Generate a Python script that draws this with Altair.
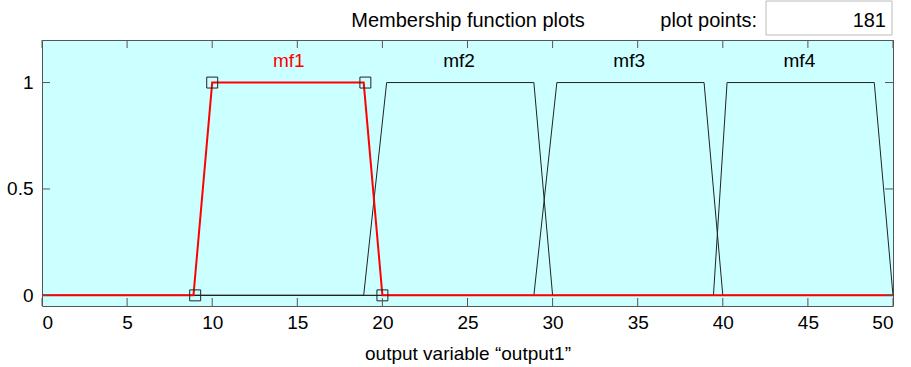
import altair as alt
import pandas as pd

# ---- data ----
mf_names = ["mf1", "mf2", "mf3", "mf4"]
mf_x = [
    [0, 8.9, 10.0, 18.9, 20.0, 50],
    [0, 18.9, 20.25, 28.9, 30.0, 50],
    [0, 28.9, 30.25, 38.9, 40.0, 50],
    [0, 39.45, 40.25, 48.9, 50.0],
]
mf_y = [
    [0, 0, 1, 1, 0, 0],
    [0, 0, 1, 1, 0, 0],
    [0, 0, 1, 1, 0, 0],
    [0, 0, 1, 1, 0],
]
label_x = [14.5, 24.5, 34.5, 44.5]
label_y = [1.1, 1.1, 1.1, 1.1]
label_color = ["red", "black", "black", "black"]
vertex_x = [9, 10, 19, 20]
vertex_y = [0, 1, 1, 0]
x_ticks = [0, 5, 10, 15, 20, 25, 30, 35, 40, 45, 50]
y_ticks = [0, 0.5, 1]
title_text = "Membership function plots"
points_label = "plot points:"
points_value = "181"
x_title = "output variable \u201coutput1\u201d"

FONT = "Liberation Sans"
W, H = 851, 266

rows = []
for name, xs_, ys_ in zip(mf_names, mf_x, mf_y):
    for i, (xv, yv) in enumerate(zip(xs_, ys_)):
        rows.append({"mf": name, "i": i, "x": xv, "y": yv})
lines_df = pd.DataFrame(rows)
labels_df = pd.DataFrame({"mf": mf_names, "x": label_x, "y": label_y, "c": label_color})
verts_df = pd.DataFrame({"x": vertex_x, "y": vertex_y})
xt_df = pd.DataFrame({"v": x_ticks})
yt_df = pd.DataFrame({"v": y_ticks})
one = pd.DataFrame({"t": [title_text], "p": [points_label], "n": [points_value]})

xs = alt.Scale(domain=[0, 50], nice=False, zero=False)
ys = alt.Scale(domain=[-0.05, 1.2], nice=False, zero=False)

x_axis = alt.Axis(values=x_ticks, ticks=False, domain=False, grid=False,
                  labelFontSize=19, labelPadding=7, labelColor="black",
                  title=x_title, titleFontSize=19, titleFontWeight="normal",
                  titlePadding=12, titleColor="black", format="~g")
y_axis = alt.Axis(values=y_ticks, ticks=False, domain=False, grid=False,
                  labelFontSize=19, labelPadding=9, labelColor="black",
                  title=None, format="~g")

black_lines = alt.Chart(lines_df).transform_filter(alt.datum.mf != "mf1").mark_line(
    color="#222222", strokeWidth=1
).encode(
    x=alt.X("x:Q", scale=xs, axis=x_axis),
    y=alt.Y("y:Q", scale=ys, axis=y_axis),
    detail="mf:N",
    order="i:Q",
)

red_line = alt.Chart(lines_df).transform_filter(alt.datum.mf == "mf1").mark_line(
    color="red", strokeWidth=2
).encode(
    x=alt.X("x:Q", scale=xs),
    y=alt.Y("y:Q", scale=ys),
    order="i:Q",
)

squares = alt.Chart(verts_df).mark_point(
    shape="square", filled=False, color="#222222", strokeWidth=1, size=120, opacity=1
).encode(x=alt.X("x:Q", scale=xs), y=alt.Y("y:Q", scale=ys))

labels = alt.Chart(labels_df).mark_text(font=FONT, fontSize=19, baseline="middle").encode(
    x=alt.X("x:Q", scale=xs), y=alt.Y("y:Q", scale=ys), text="mf:N",
    color=alt.Color("c:N", scale=None),
)

tick_style = dict(color="#555555", strokeWidth=1)
xt_bottom = alt.Chart(xt_df).mark_rule(**tick_style).encode(
    x=alt.X("v:Q", scale=xs), y=alt.value(H), y2=alt.value(H - 8))
xt_top = alt.Chart(xt_df).mark_rule(**tick_style).encode(
    x=alt.X("v:Q", scale=xs), y=alt.value(0), y2=alt.value(8))
yt_left = alt.Chart(yt_df).mark_rule(**tick_style).encode(
    y=alt.Y("v:Q", scale=ys), x=alt.value(0), x2=alt.value(8))
yt_right = alt.Chart(yt_df).mark_rule(**tick_style).encode(
    y=alt.Y("v:Q", scale=ys), x=alt.value(W), x2=alt.value(W - 8))

title_mark = alt.Chart(one).mark_text(font=FONT, fontSize=20, align="center",
                                      baseline="alphabetic", color="black").encode(
    x=alt.value(426), y=alt.value(-13), text="t:N")
points_mark = alt.Chart(one).mark_text(font=FONT, fontSize=20, align="right",
                                       baseline="alphabetic", color="black").encode(
    x=alt.value(715), y=alt.value(-13), text="p:N")
box_mark = alt.Chart(one).mark_rect(fill="white", stroke="#bbbbbb", strokeWidth=1).encode(
    x=alt.value(724), x2=alt.value(850), y=alt.value(-39), y2=alt.value(-5))
value_mark = alt.Chart(one).mark_text(font=FONT, fontSize=20, align="right",
                                      baseline="alphabetic", color="black").encode(
    x=alt.value(844), y=alt.value(-13), text="n:N")

chart = alt.layer(
    black_lines, red_line, squares, labels,
    xt_bottom, xt_top, yt_left, yt_right,
    title_mark, points_mark, box_mark, value_mark,
).properties(
    width=W, height=H,
    autosize=alt.AutoSizeParams(type="none"),
    padding={"left": 42, "top": 40, "right": 18, "bottom": 61},
).configure(
    font=FONT, background="white",
    view=alt.ViewConfig(fill="#CCFFFF", stroke="#555555", strokeWidth=1),
    axis=alt.AxisConfig(labelFont=FONT, titleFont=FONT),
)

chart.save("out.html", embed_options={"renderer": "svg", "actions": False})
